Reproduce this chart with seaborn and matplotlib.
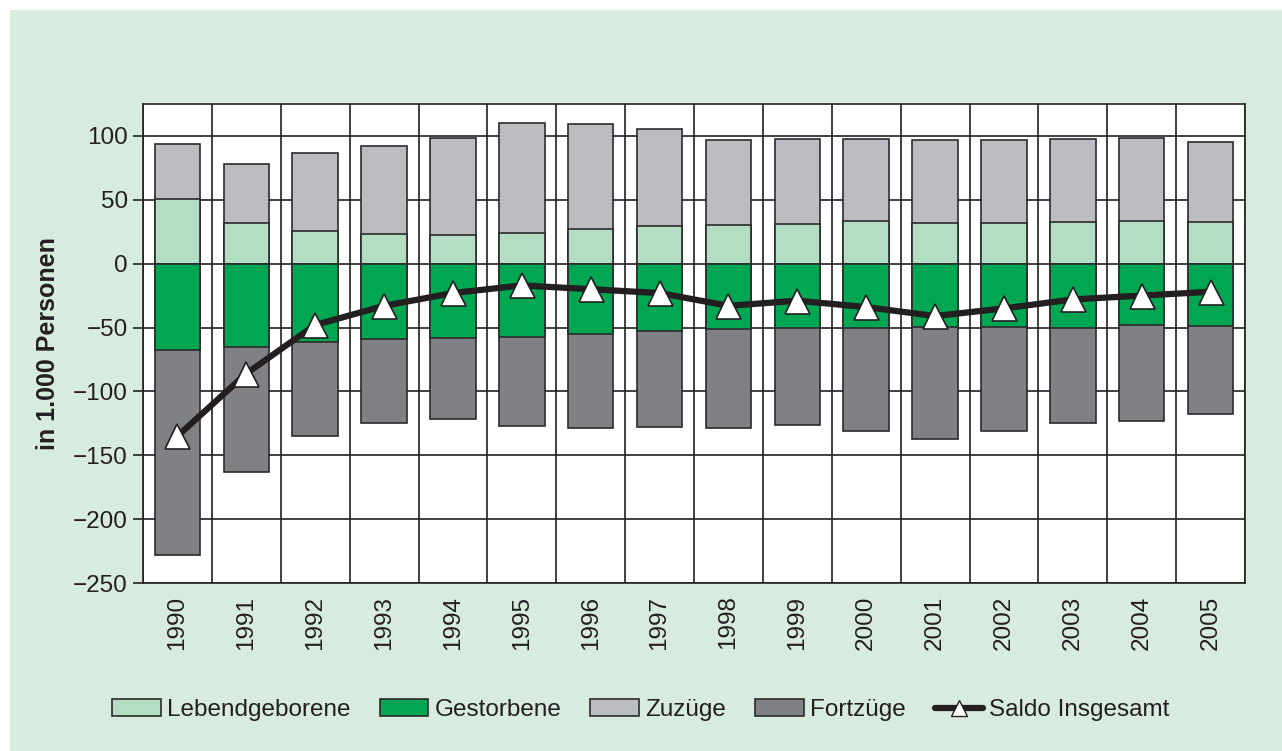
"""
Bevölkerungsbewegung 1990-2005: gestapelte Balken + Saldo-Linie
"""
import numpy as np
import matplotlib
matplotlib.use('Agg')
import matplotlib.pyplot as plt
from matplotlib.patches import Patch, Rectangle
from matplotlib.lines import Line2D
import seaborn as sns

# Data (in 1.000 Personen)
years = ['1990', '1991', '1992', '1993', '1994', '1995', '1996', '1997',
         '1998', '1999', '2000', '2001', '2002', '2003', '2004', '2005']
lebendgeborene = [50.4, 31.6, 25.6, 23.5, 22.7, 24.0, 27.5, 29.5,
                  30.6, 31.4, 33.2, 31.9, 31.6, 32.4, 33.2, 32.9]
zuzuege = [43.2, 46.8, 61.4, 68.5, 75.9, 85.8, 81.8, 75.8,
           66.1, 66.1, 64.6, 65.1, 64.9, 65.1, 65.1, 62.3]
gestorbene = [-67.5, -65.4, -61.0, -59.3, -58.0, -57.3, -55.4, -53.0,
              -51.5, -50.2, -50.4, -49.2, -49.4, -50.4, -48.1, -48.6]
fortzuege = [-160.5, -97.6, -74.0, -65.4, -63.6, -69.5, -73.5, -75.0,
             -77.4, -76.3, -80.8, -87.8, -81.6, -74.6, -74.8, -68.8]
saldo = [-135, -86, -48, -33, -23, -17, -20, -23,
         -33, -29, -34, -41, -35, -28, -25, -22]

yticks = [-250, -200, -150, -100, -50, 0, 50, 100]

# Colors
bg_color = '#d8ebdf'
c_lebend = '#b3dec3'
c_gest = '#00a651'
c_zuzug = '#bcbdc1'
c_fortz = '#808185'
c_edge = '#2b2b2b'
c_line = '#231f20'
c_text = '#231f20'

sns.set_style('white')
plt.rcParams['font.family'] = ['Liberation Sans', 'DejaVu Sans']

fig = plt.figure(figsize=(12.82, 7.51), dpi=100, facecolor='white')
fig.patches.append(Rectangle((10 / 1282, 0), 1, 1 - 10 / 751,
                             transform=fig.transFigure, facecolor=bg_color,
                             edgecolor='none', zorder=-10))
ax = fig.add_axes([143 / 1282, 1 - 583 / 751, (1245 - 143) / 1282, (583 - 104) / 751])
ax.set_facecolor('white')

n = len(years)
top_pos = np.array(lebendgeborene) + np.array(zuzuege)
bot_neg = np.array(gestorbene) + np.array(fortzuege)

bar_kw = dict(width=0.66, edgecolor=c_edge, linewidth=1.2, order=years, ax=ax,
              saturation=1, zorder=3)
# stacked look: draw the totals first, then the inner segment on top
sns.barplot(x=years, y=top_pos, color=c_zuzug, **bar_kw)
sns.barplot(x=years, y=lebendgeborene, color=c_lebend, **bar_kw)
sns.barplot(x=years, y=bot_neg, color=c_fortz, **bar_kw)
sns.barplot(x=years, y=gestorbene, color=c_gest, **bar_kw)

ax.plot(np.arange(n), saldo, color=c_line, linewidth=4.5, marker='^',
        markersize=18, markerfacecolor='white', markeredgecolor=c_line,
        markeredgewidth=1.2, zorder=5)

# Axes, grid
ax.set_xlim(-0.5, n - 0.5)
ax.set_ylim(-250, 125)
ax.set_yticks(yticks)
ax.set_yticklabels([f'\u2212{abs(v)}' if v < 0 else str(v) for v in yticks])
ax.set_xticks(np.arange(-0.5, n), minor=True)
ax.set_axisbelow(True)
ax.yaxis.grid(True, color=c_line, linewidth=1.2)
ax.xaxis.grid(True, which='minor', color=c_line, linewidth=1.2)
ax.xaxis.grid(False, which='major')
for s in ax.spines.values():
    s.set_color(c_line)
    s.set_linewidth(1.2)
    s.set_visible(True)

ax.tick_params(axis='x', which='both', length=0, pad=9, labelsize=17.5,
               labelcolor=c_text, rotation=90)
ax.tick_params(axis='y', length=7, width=1.2, color=c_line, pad=4,
               labelsize=17.5, labelcolor=c_text, left=True)
ax.set_xlabel('')
ax.set_ylabel('in 1.000 Personen', fontsize=18, fontweight='bold', color=c_text)
ax.yaxis.set_label_coords(-0.0755, 0.5)

# Legend
handles = [
    Patch(facecolor=c_lebend, edgecolor=c_edge, linewidth=1.2, label='Lebendgeborene'),
    Patch(facecolor=c_gest, edgecolor=c_edge, linewidth=1.2, label='Gestorbene'),
    Patch(facecolor=c_zuzug, edgecolor=c_edge, linewidth=1.2, label='Zuzüge'),
    Patch(facecolor=c_fortz, edgecolor=c_edge, linewidth=1.2, label='Fortzüge'),
    Line2D([], [], color=c_line, linewidth=4.5, marker='^', markersize=12,
           markerfacecolor='white', markeredgecolor=c_line, label='Saldo Insgesamt'),
]
fig.legend(handles=handles, loc='center', bbox_to_anchor=(641 / 1282, 1 - 710 / 751),
           ncol=5, frameon=False, fontsize=17.5, handlelength=2.0, handleheight=0.7,
           handletextpad=0.25, columnspacing=1.2, labelcolor=c_text)

fig.savefig('out.png', dpi=100, facecolor=fig.get_facecolor())
